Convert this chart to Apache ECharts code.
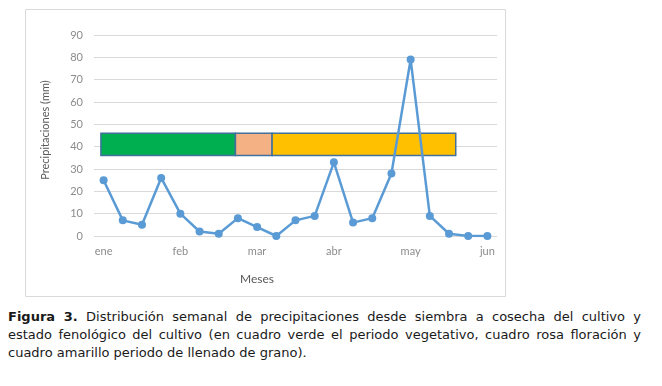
<!DOCTYPE html>
<html>
<head>
<meta charset="utf-8">
<script src="https://cdn.jsdelivr.net/npm/echarts@6/dist/echarts.min.js"></script>
<style>
  html, body { margin: 0; padding: 0; background: #fff; }
  #chart { position: absolute; left: 0; top: 0; width: 662px; height: 300px; }
  #caption { position: absolute; left: 8px; top: 308px; width: 633px; font-family: "DejaVu Sans", Verdana, sans-serif; font-size: 13px; line-height: 18px; color: #1a1a1a; }
  #caption .j { text-align: justify; text-align-last: justify; white-space: nowrap; }
</style>
</head>
<body>
<div id="chart"></div>
<div id="caption"><div class="j"><b>Figura 3.</b> Distribución semanal de precipitaciones desde siembra a cosecha del cultivo y</div><div class="j">estado fenológico del cultivo (en cuadro verde el periodo vegetativo, cuadro rosa floración y</div><div>cuadro amarillo periodo de llenado de grano).</div></div>
<script>
// Weekly categories (labels shown every 4th week)
const weeks = ['ene','','','','feb','','','','mar','','','','abr','','','','may','','','','jun'];
// Weekly precipitation (mm)
const rain = [25, 7, 5, 26, 10, 2, 1, 8, 4, 0, 7, 9, 33, 6, 8, 28, 79, 9, 1, 0, 0];
// Phenological phases: start/end in week index units, low/high in mm
const phaseNames = ['Vegetativo', 'Floración', 'Llenado de grano'];
const phaseStart = [-0.14, 6.87, 8.78];
const phaseEnd = [6.87, 8.78, 18.35];
const phaseLow = [36, 36, 36];
const phaseHigh = [46, 46, 46];
const phaseColors = ['#00B050', '#F4B183', '#FFC000'];
const yTicks = [0, 90, 10]; // min, max, interval

const chart = echarts.init(document.getElementById('chart'));
const phaseData = phaseNames.map((n, i) => [phaseStart[i], phaseEnd[i], phaseLow[i], phaseHigh[i], i]);

chart.setOption({
  animation: false,
  graphic: [
    { type: 'rect', shape: { x: 25.5, y: 9.5, width: 480, height: 287 }, style: { fill: 'none', stroke: '#D9D9D9', lineWidth: 1 }, silent: true },
    { type: 'text', x: 257, y: 279, style: { text: 'Meses', font: '12px Lato, "Open Sans", sans-serif', fill: '#595959', align: 'center', verticalAlign: 'middle' } },
    { type: 'text', x: 45, y: 130, rotation: Math.PI / 2, style: { text: 'Precipitaciones (mm)', font: '11px Lato, "Open Sans", sans-serif', fill: '#595959', align: 'center', verticalAlign: 'middle' } }
  ],
  grid: { left: 94, right: 165, top: 35, bottom: 64 },
  xAxis: [
    {
      type: 'category', data: weeks, boundaryGap: true,
      axisLine: { show: false }, axisTick: { show: false },
      axisLabel: { interval: 0, margin: 10, color: '#8C8C8C', fontFamily: 'Lato, sans-serif', fontSize: 11 }
    },
    { type: 'value', min: -0.5, max: 20.5, show: false }
  ],
  yAxis: {
    type: 'value', min: yTicks[0], max: yTicks[1], interval: yTicks[2],
    axisLine: { show: false }, axisTick: { show: false },
    axisLabel: { margin: 11, color: '#8C8C8C', fontFamily: 'Lato, sans-serif', fontSize: 11 },
    splitLine: { lineStyle: { color: '#D9D9D9', width: 1 } }
  },
  series: [
    {
      type: 'custom', xAxisIndex: 1, data: phaseData, z: 2,
      renderItem: function (params, api) {
        const p1 = api.coord([api.value(0), api.value(3)]);
        const p2 = api.coord([api.value(1), api.value(2)]);
        return {
          type: 'rect',
          shape: { x: p1[0], y: p1[1], width: p2[0] - p1[0], height: p2[1] - p1[1] },
          style: { fill: phaseColors[api.value(4)], stroke: '#41719C', lineWidth: 1.5 }
        };
      }
    },
    {
      type: 'line', data: rain, z: 3,
      symbol: 'circle', symbolSize: 8,
      lineStyle: { color: '#5B9BD5', width: 2.5 },
      itemStyle: { color: '#5B9BD5' }
    }
  ]
});
</script>
</body>
</html>
